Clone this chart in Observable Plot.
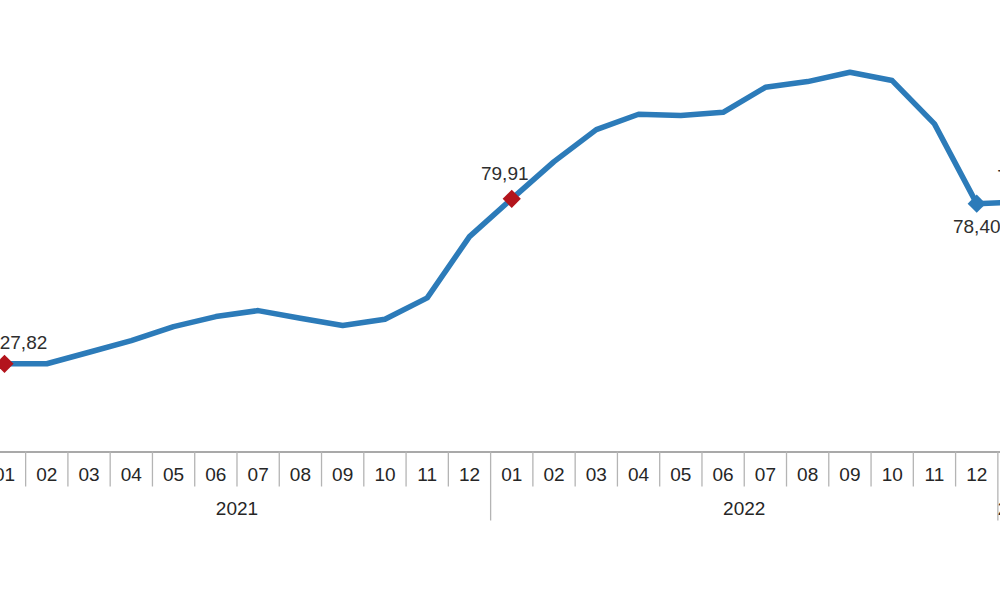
<!DOCTYPE html>
<html>
<head>
<meta charset="utf-8">
<script src="https://cdn.jsdelivr.net/npm/d3@7"></script>
<script src="https://cdn.jsdelivr.net/npm/@observablehq/plot@0.6"></script>
<style>
  html, body { margin: 0; padding: 0; background: #fff; overflow: hidden; }
  #chart { width: 1000px; height: 593px; }
</style>
</head>
<body>
<div id="chart"></div>
<script>
// Month tick labels (2021-01 … 2023-01, the last one cut by the frame)
const monthLabels = ["01","02","03","04","05","06","07","08","09","10","11","12",
                     "01","02","03","04","05","06","07","08","09","10","11","12",
                     "01"];
const yearLabels = ["2021", "2022", "2023"];
// Annual change (%)
const values2021 = [27.82, 27.85, 31.48, 35.17, 39.59, 42.75, 44.64, 42.21, 39.91, 41.90, 48.65, 68.00];
const values2022 = [79.91, 91.68, 101.78, 106.61, 106.20, 107.24, 115.13, 116.93, 119.87, 117.25, 103.58, 78.40];
const values2023 = [78.86];
// Which points carry a marker/label
const labelled = [
  {year: "2021", month: "01", kind: "red",  pos: "above-right"},
  {year: "2022", month: "01", kind: "red",  pos: "above-left"},
  {year: "2022", month: "12", kind: "blue", pos: "below"},
  {year: "2023", month: "01", kind: "blue", pos: "above"}
];

const values = [...values2021, ...values2022, ...values2023];
const yearsOf = [...values2021.map(() => "2021"), ...values2022.map(() => "2022"), ...values2023.map(() => "2023")];
const data = values.map((v, i) => ({i, month: monthLabels[i], year: yearsOf[i], value: v}));

const fmt = v => d3.format(".2f")(v).replace(".", ",");
const marked = labelled.map(l => {
  const d = data.find(d => d.year === l.year && d.month === l.month);
  return {...d, kind: l.kind, pos: l.pos, label: fmt(d.value)};
});

// Cell boundaries between months, and between years
const boundaries = data.slice(1).map(d => ({x: d.i - 0.5, yearBreak: d.year !== data[d.i - 1].year}));
const yearGroups = yearLabels.map(y => {
  const idx = data.filter(d => d.year === y).map(d => d.i);
  return {year: y, x: d3.mean(idx)};
});

const BLUE = "#2c7bb9";
const RED = "#b3141c";
const font = "'Liberation Sans', Arial, sans-serif";

const chart = Plot.plot({
  width: 1000,
  height: 593,
  marginTop: 0, marginRight: 0, marginBottom: 0, marginLeft: 0,
  style: {fontFamily: font, overflow: "hidden", background: "#fff"},
  x: {type: "linear", domain: [0, 24], range: [4, 1018.5], axis: null},
  y: {type: "linear", domain: [0, 140], range: [451.5, 8], axis: null},
  marks: [
    // x "table" axis
    Plot.ruleY([0], {stroke: "#8c8c8c", strokeWidth: 1.3}),
    Plot.ruleX(boundaries.filter(d => !d.yearBreak), {x: "x", y1: 0, y2: 0, insetBottom: -35, stroke: "#b4b4b4", strokeWidth: 1.3}),
    Plot.ruleX(boundaries.filter(d => d.yearBreak), {x: "x", y1: 0, y2: 0, insetBottom: -69, stroke: "#b4b4b4", strokeWidth: 1.3}),
    Plot.text(data, {x: "i", y: 0, text: "month", dy: 23, fontSize: 19, fill: "#262626"}),
    Plot.text(yearGroups, {x: "x", y: 0, text: "year", dy: 57, fontSize: 19, fill: "#262626"}),
    // series
    Plot.line(data, {x: "i", y: "value", stroke: BLUE, strokeWidth: 5.5, strokeLinejoin: "round", strokeLinecap: "round"}),
    Plot.dot(marked, {x: "i", y: "value", symbol: "diamond2", r: 8.2, fill: d => d.kind === "red" ? RED : BLUE, stroke: "none"}),
    Plot.text(marked.filter(d => d.pos === "above-right"), {x: "i", y: "value", text: "label", dx: 19, dy: -21, fontSize: 19, fill: "#2e2e2e"}),
    Plot.text(marked.filter(d => d.pos === "above-left"), {x: "i", y: "value", text: "label", dx: -7, dy: -25, fontSize: 19, fill: "#2e2e2e"}),
    Plot.text(marked.filter(d => d.pos === "above"), {x: "i", y: "value", text: "label", dx: 2, dy: -25, fontSize: 19, fill: "#2e2e2e"}),
    Plot.text(marked.filter(d => d.pos === "below"), {x: "i", y: "value", text: "label", dy: 23, fontSize: 19, fill: "#2e2e2e"})
  ]
});
document.getElementById("chart").appendChild(chart);
</script>
</body>
</html>
